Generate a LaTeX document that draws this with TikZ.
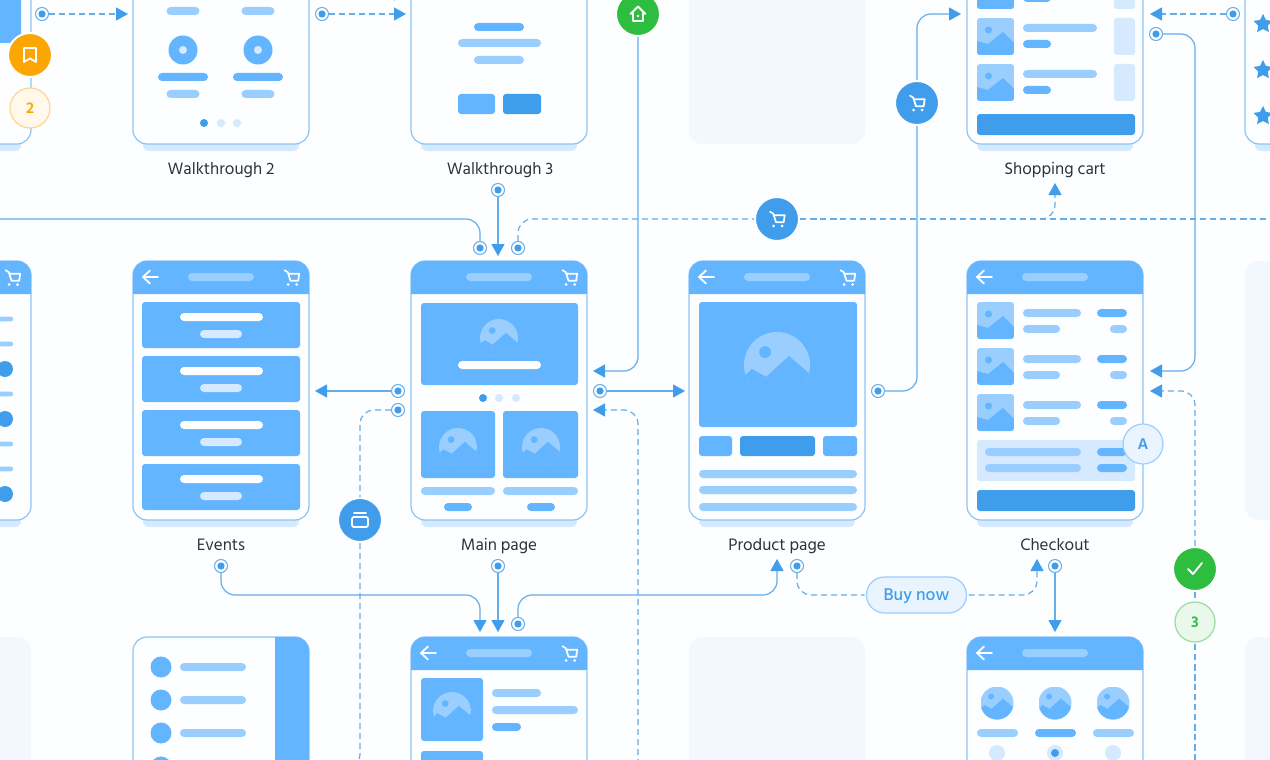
\documentclass[tikz,border=0pt]{standalone}
\usepackage{fontspec}
\setmainfont{Hind Siliguri}
\newfontfamily\midfont{Hind Siliguri Medium}
\usetikzlibrary{arrows.meta}
\usetikzlibrary{shapes.geometric}
\usetikzlibrary{calc}

\definecolor{bgcol}{HTML}{FCFEFF}
\definecolor{panelcol}{HTML}{F3F8FF}
\definecolor{headblue}{HTML}{64B5FF}
\definecolor{tipblue}{HTML}{3F9DEC}
\definecolor{lightblue}{HTML}{99CEFF}
\definecolor{paleblue}{HTML}{D5E9FF}
\definecolor{framecol}{HTML}{8CC5F5}
\definecolor{linecol}{HTML}{64AEEA}
\definecolor{inkcol}{HTML}{2E3338}
\definecolor{okgreen}{HTML}{2DBD3F}
\definecolor{warnorange}{HTML}{FBA602}

\tikzset{
    glyph/.style={draw=white, line width=1.8pt, line cap=round, line join=round},
    pics/backglyph/.style={code={
        \draw[glyph] (0,0) -- (15,0) (7,-6.5) -- (0,0) -- (7,6.5);
    }},
    pics/cartglyph/.style={code={
        \draw[draw=white, line width=1.7pt, line join=round, line cap=round]
            (-7,-7.3) -- (-3.7,-5.3) -- (-1,3.3) -- (6.7,3.3) -- (7.7,-3.7) -- (-3,-3.7);
        \fill[white] (-3.3,7) circle (1.5) (5,7) circle (1.5);
    }},
    pics/homeglyph/.style={code={
        \draw[glyph] (-7.5,0) -- (0,-7.5) -- (7.5,0) (-5,-1) -- (-5,7) -- (5,7) -- (5,-1);
        \fill[white] (0,2) circle (1.3);
    }},
    pics/bookglyph/.style={code={
        \draw[glyph] (-6,-7) -- (6,-7) -- (6,7) -- (0,3.5) -- (-6,7) -- cycle;
    }},
    pics/checkglyph/.style={code={
        \draw[glyph] (-7,0) -- (-2,5) -- (7,-6);
    }},
    pics/windowglyph/.style={code={
        \draw[glyph] (-6,-7) -- (6,-7);
        \draw[glyph, rounded corners=2] (-8,-3) rectangle (8,7);
    }},
}

\newcommand{\phone}[3]{
    \fill[paleblue, rounded corners=6] (#1+10,#2+#3-20) rectangle (#1+166,#2+#3+7);
    \draw[draw=framecol, fill=bgcol, line width=1.2pt, rounded corners=14] (#1,#2) rectangle (#1+176,#2+#3);
}
\newcommand{\phonehead}[2]{
    \fill[headblue] (#1,#2+33) {[rounded corners=14] -- (#1,#2) -- (#1+176,#2)} -- (#1+176,#2+33) -- cycle;
    \fill[lightblue, rounded corners=4] (#1+55,#2+12) rectangle (#1+121,#2+20);
}
\newcommand{\strip}[4]{\fill[#1, rounded corners=4] (#2,#4-4) rectangle (#3,#4+4);}
\newcommand{\block}[5]{\fill[#1, rounded corners=3] (#2,#3) rectangle (#4,#5);}
\newcommand{\hillicon}[5]{
    \begin{scope}[shift={(#1,#2)}, x=#3pt, y=-#3pt]
        \clip (0,0) circle[radius=1];
        \fill[#4] (-1,-1) rectangle (1,1);
        \fill[#5] (-1,.34) -- (-.76,.12) -- (-.33,.36) -- (.36,-.27) -- (1,.27) -- (1,1) -- (-1,1) -- cycle;
        \fill[#5] (-.36,-.39) circle[radius=.18];
    \end{scope}
}
\newcommand{\thumb}[2]{
    \begin{scope}[shift={(#1,#2)}]
        \clip[rounded corners=3] (0,0) rectangle (37,37);
        \fill[lightblue] (0,0) rectangle (37,37);
        \fill[headblue] (0,23) -- (11,26) -- (26,14) -- (37,25) -- (37,37) -- (0,37) -- cycle;
        \fill[headblue] (11.5,12) circle (3.5);
    \end{scope}
}
\newcommand{\link}[3]{\draw[#1] (#2) .. controls ($(#2)!.5!(#3)$) .. (#3);}

\begin{document}
\begin{tikzpicture}[x=1pt, y=-1pt, >=Stealth,
    flow/.style={draw=linecol, line width=1.2pt, rounded corners=14},
    flowdash/.style={flow, dash pattern=on 6pt off 4pt},
    tip/.style={-{Triangle[length=12pt,width=13pt,color=tipblue]}},
    port/.style={circle, draw=linecol, line width=1pt, fill=white, minimum size=13pt, inner sep=0pt,
        path picture={\fill[tipblue] (path picture bounding box.center) circle (3.6pt);}},
    bigbadge/.style={circle, draw=white, line width=2pt, minimum size=44pt, inner sep=0pt, outer sep=1pt},
    numbadge/.style={circle, line width=1.2pt, minimum size=40pt, inner sep=0pt, outer sep=2pt, font=\fontsize{16}{16}\selectfont\bfseries},
    caption/.style={anchor=base, text=inkcol, font=\fontsize{17}{20}\selectfont, inner sep=0pt},
    starmark/.style={star, star points=5, star point ratio=2.0, fill=tipblue, minimum size=20pt, inner sep=0pt},
]

    \fill[bgcol] (0,0) rectangle (1270,760);
    \clip (0,0) rectangle (1270,760);

    \foreach \a/\b/\c/\d in {689/-20/865/144, 1245/261/1300/520, -30/637/31/800, 689/637/865/800, 1245/637/1300/800}
        \fill[panelcol, rounded corners=14] (\a,\b) rectangle (\c,\d);

    % top row
    \phone{-145}{-115}{259}
    \block{headblue}{-20}{-10}{21}{43}

    \phone{133}{-115}{259}
    \foreach \x in {183,258} {
        \strip{lightblue}{\x-16.5}{\x+16.5}{11}
        \fill[headblue] (\x,50) circle (14.5);
        \fill[paleblue] (\x,50) circle (4);
        \strip{headblue}{\x-25}{\x+25}{77}
        \strip{lightblue}{\x-16.5}{\x+16.5}{94}
    }
    \fill[tipblue] (204,123) circle (4);
    \fill[paleblue] (221,123) circle (4) (237,123) circle (4);

    \phone{411}{-115}{259}
    \strip{headblue}{474}{524}{27}
    \strip{lightblue}{458}{541}{43}
    \strip{lightblue}{474}{524}{60}
    \block{headblue}{458}{94}{495}{114}
    \block{tipblue}{503}{94}{541}{114}

    \phone{967}{-115}{259}
    \foreach \y in {-28,18,64} {
        \thumb{977}{\y}
        \strip{lightblue}{1023}{1097}{\y+10}
        \strip{headblue}{1023}{1051}{\y+26}
        \block{paleblue}{1114}{\y}{1135}{\y+37}
    }
    \block{tipblue}{977}{114}{1135}{135}

    \phone{1245}{-115}{259}
    \foreach \y/\n in {24/a,70/b,116/c}
        \node[starmark] (star\n) at (1263,\y) {};

    % middle row
    \phone{-145}{261}{259}
    \phonehead{-145}{261}
    \pic at (12.5,277.5) {cartglyph};
    \foreach \y in {319,344,394,444,469} \fill[lightblue, rounded corners=2] (-20,\y-2.3) rectangle (13,\y+2.3);
    \foreach \y in {369,419,494} \fill[tipblue] (5,\y) circle (8);

    \phone{133}{261}{259}
    \phonehead{133}{261}
    \pic at (143,277) {backglyph};
    \pic at (291.5,277.5) {cartglyph};
    \foreach \y in {302,356,410,464} {
        \block{headblue}{142}{\y}{300}{\y+46}
        \strip{white}{180}{263}{\y+15}
        \strip{paleblue}{200}{242}{\y+32}
    }

    \phone{411}{261}{259}
    \phonehead{411}{261}
    \pic at (569.5,277.5) {cartglyph};
    \block{headblue}{421}{303}{578}{385}
    \hillicon{499}{338}{19}{lightblue}{headblue}
    \strip{white}{458}{541}{365}
    \fill[tipblue] (483,398) circle (4);
    \fill[paleblue] (499,398) circle (4) (516,398) circle (4);
    \block{headblue}{421}{411}{495}{478}
    \block{headblue}{503}{411}{578}{478}
    \hillicon{458}{447}{19}{lightblue}{headblue}
    \hillicon{541}{447}{19}{lightblue}{headblue}
    \strip{lightblue}{421}{495}{491}
    \strip{lightblue}{503}{578}{491}
    \strip{headblue}{444}{472}{507}
    \strip{headblue}{527}{555}{507}

    \phone{689}{261}{259}
    \phonehead{689}{261}
    \pic at (699,277) {backglyph};
    \pic at (847.5,277.5) {cartglyph};
    \block{headblue}{699}{302}{857}{427}
    \hillicon{777}{365}{33}{lightblue}{headblue}
    \block{headblue}{699}{436}{732}{456}
    \block{tipblue}{740}{436}{815}{456}
    \block{headblue}{823}{436}{857}{456}
    \foreach \y in {474,490,507} {\strip{lightblue}{699}{857}{\y}}

    \phone{967}{261}{259}
    \phonehead{967}{261}
    \pic at (977,277) {backglyph};
    \foreach \y in {302,348,394} {
        \thumb{977}{\y}
        \strip{lightblue}{1023}{1081}{\y+11}
        \strip{lightblue}{1023}{1060}{\y+27}
        \strip{headblue}{1097}{1127}{\y+11}
        \strip{lightblue}{1110}{1127}{\y+27}
    }
    \block{paleblue}{977}{440}{1135}{481}
    \foreach \y in {452,468} {
        \strip{lightblue}{985}{1081}{\y}
        \strip{headblue}{1097}{1127}{\y}
    }
    \block{tipblue}{977}{490}{1135}{511}

    % bottom row
    \phone{133}{637}{259}
    \fill[headblue] (275,900) -- (275,637) {[rounded corners=14] -- (309,637) -- (309,900)} -- cycle;
    \foreach \y in {667,700,733,767} {
        \fill[headblue] (161,\y) circle (10.5);
        \strip{lightblue}{180}{246}{\y}
    }

    \phone{411}{637}{259}
    \phonehead{411}{637}
    \pic at (421,653) {backglyph};
    \pic at (569.5,653.5) {cartglyph};
    \block{headblue}{421}{678}{483}{741}
    \hillicon{452}{711}{19}{lightblue}{headblue}
    \strip{lightblue}{492}{541}{693}
    \strip{lightblue}{492}{578}{710}
    \strip{headblue}{492}{521}{727}
    \block{headblue}{421}{751}{483}{790}

    \phone{967}{637}{259}
    \phonehead{967}{637}
    \pic at (977,653) {backglyph};
    \foreach \x in {997,1055,1113} {
        \hillicon{\x}{703}{16.5}{lightblue}{headblue}
        \fill[paleblue] (\x,753) circle (8);
    }
    \fill[tipblue] (1055,753) circle (4);
    \strip{lightblue}{977}{1018}{733}
    \strip{headblue}{1035}{1076}{733}
    \strip{lightblue}{1093}{1134}{733}

    % captions
    \node[caption] (capwalktwo) at (221,174.5) {Walkthrough 2};
    \node[caption] (capwalkthree) at (500,174.5) {Walkthrough 3};
    \node[caption] (capcart) at (1055,174.5) {Shopping cart};
    \node[caption] (capevents) at (221,550.5) {Events};
    \node[caption] (capmain) at (499,550.5) {Main page};
    \node[caption] (capproduct) at (777,550.5) {Product page};
    \node[caption] (capcheckout) at (1055,550.5) {Checkout};

    % ports
    \node[port] (pwalkone) at (42,14) {};
    \node[port] (pwalktwo) at (322,14) {};
    \node[port] (pwalkthree) at (498,190) {};
    \node[port] (pmainl) at (480,248) {};
    \node[port] (pmainr) at (518,248) {};
    \node[port] (pmaine) at (600,391) {};
    \node[port] (pmainw) at (398,391) {};
    \node[port] (pmainwb) at (398,410) {};
    \node[port] (pevents) at (221,566) {};
    \node[port] (pmains) at (498,566) {};
    \node[port] (pdetail) at (518,624) {};
    \node[port] (pprodr) at (878,391) {};
    \node[port] (pprods) at (797,566) {};
    \node[port] (pcheck) at (1055,566) {};
    \node[port] (pcartr) at (1156,34) {};
    \node[port] (pstars) at (1233,14) {};

    % badges
    \node[bigbadge, fill=warnorange] (bookb) at (30,55) {};
    \pic at (bookb) {bookglyph};
    \node[numbadge, draw=warnorange!45, fill=warnorange!8, text=warnorange] (twob) at (30,108) {2};
    \node[bigbadge, fill=okgreen] (homeb) at (638,14) {};
    \pic at (homeb) {homeglyph};
    \node[bigbadge, fill=tipblue] (cartc) at (777,219) {};
    \pic at (cartc) {cartglyph};
    \node[bigbadge, fill=tipblue] (cartb) at (917,103) {};
    \pic at (cartb) {cartglyph};
    \node[bigbadge, fill=tipblue] (winb) at (360,520) {};
    \pic at (winb) {windowglyph};
    \node[bigbadge, fill=okgreen] (okb) at (1195,569) {};
    \pic at (okb) {checkglyph};
    \node[numbadge, draw=okgreen!50, fill=okgreen!10, text=okgreen] (threeb) at (1195,622) {3};
    \node[numbadge, draw=lightblue, fill=paleblue!50, text=tipblue] (ab) at (1143,444) {A};
    \node[draw=lightblue, fill=paleblue!50, text=tipblue, line width=1.2pt, rounded corners=18,
        minimum width=100pt, minimum height=36pt, inner sep=0pt, outer sep=2pt, text height=15pt, text depth=4pt,
        font=\fontsize{17.4}{18}\midfont] (buyb) at (916.5,595) {Buy now};

    % connector ends
    \coordinate (twalktwo) at (128,14);
    \coordinate (twalkthree) at (406,14);
    \coordinate (twalkup) at (406,-6);
    \coordinate (swalkup) at (370,-6);
    \coordinate (tmaintop) at (498,256);
    \coordinate (sleft) at (-10,219);
    \coordinate (eright) at (1285,219);
    \coordinate (jbranch) at (1040,219);
    \coordinate (tcartlabel) at (1055,183);
    \coordinate (tmainhome) at (593,371);
    \coordinate (tmaindash) at (593,410);
    \coordinate (sdashmain) at (638,775);
    \coordinate (tproduct) at (685,391);
    \coordinate (tevents) at (315,391);
    \coordinate (ewin) at (340,768);
    \coordinate (jbottom) at (350,595);
    \coordinate (tdetaill) at (480,632);
    \coordinate (tdetailm) at (498,632);
    \coordinate (jdetail) at (650,595);
    \coordinate (tprodup) at (777,559);
    \coordinate (tcheckup) at (1037,559);
    \coordinate (tdown) at (1055,632);
    \coordinate (tcartin) at (961,14);
    \coordinate (tcartback) at (1150,14);
    \coordinate (jright) at (1195,200);
    \coordinate (tchecksolid) at (1150,371);
    \coordinate (tcheckdash) at (1150,391);
    \coordinate (echeck) at (1195,775);

    % connectors
    \link{flowdash, tip}{pwalkone}{twalktwo}
    \link{flowdash, tip}{pwalktwo}{twalkthree}
    \link{flowdash, tip}{swalkup}{twalkup}
    \link{flow, tip}{pwalkthree}{tmaintop}
    \draw[flow] (sleft) -| (pmainl);
    \draw[flowdash] (pmainr) |- (cartc);
    \link{flowdash}{cartc}{eright}
    \draw[flowdash, tip] (jbranch) -| (tcartlabel);
    \draw[flow, tip] (homeb) |- (tmainhome);
    \draw[flowdash, tip] (sdashmain) |- (tmaindash);
    \link{flow, tip}{pmaine}{tproduct}
    \link{flow, tip}{pmainw}{tevents}
    \draw[flowdash] (pmainwb) -| (winb);
    \draw[flowdash] (winb) |- (ewin);
    \draw[flow, tip] (pevents) |- (jbottom) -| (tdetaill);
    \link{flow, tip}{pmains}{tdetailm}
    \draw[flow, tip] (pdetail) |- (jdetail) -| (tprodup);
    \draw[flowdash] (pprods) |- (buyb);
    \draw[flowdash, tip] (buyb) -| (tcheckup);
    \link{flow, tip}{pcheck}{tdown}
    \draw[flow] (pprodr) -| (cartb);
    \draw[flow, tip] (cartb) |- (tcartin);
    \link{flowdash, tip}{pstars}{tcartback}
    \draw[flow, tip] (pcartr) -| (jright) |- (tchecksolid);
    \draw[flowdash, tip] (okb) |- (tcheckdash);
    \link{flowdash}{okb}{threeb}
    \link{flowdash}{threeb}{echeck}

\end{tikzpicture}
\end{document}
